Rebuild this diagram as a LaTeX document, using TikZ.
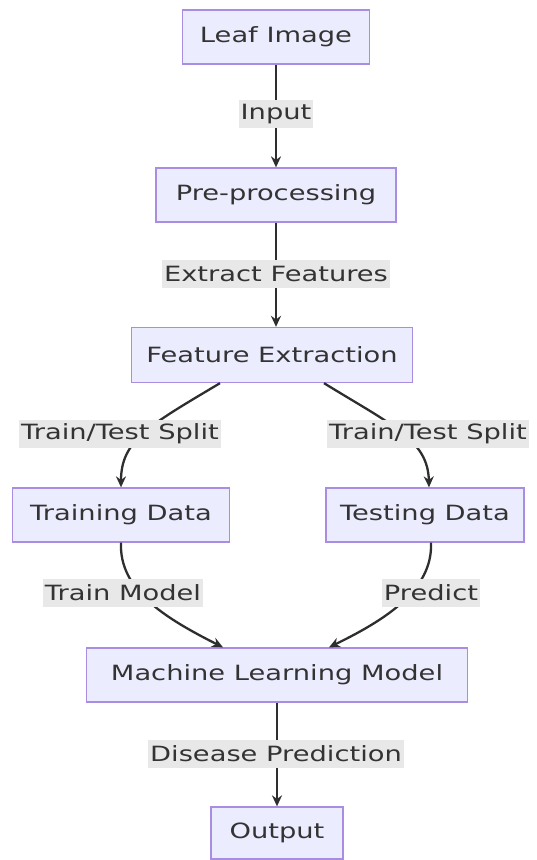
\documentclass[tikz,border=0pt]{standalone}
\usepackage{fontspec}
\setmainfont[FakeStretch=1.3]{DejaVu Sans}
\usetikzlibrary{arrows.meta}
\definecolor{boxfill}{HTML}{ECECFF}
\definecolor{boxline}{HTML}{9370DB}
\definecolor{txt}{HTML}{333333}
\definecolor{lblfill}{HTML}{E8E8E8}
\begin{document}
\begin{tikzpicture}[
  x=1pt, y=-1pt,
  box/.style={rectangle, draw=boxline!80, fill=boxfill, line width=1.3pt, text=txt,
    minimum height=54pt, inner sep=0pt, font=\fontsize{21}{25}\selectfont},
  lbl/.style={rectangle, fill=lblfill, text=txt, inner xsep=2pt, inner ysep=0pt,
    minimum height=28pt, font=\fontsize{21}{25}\selectfont},
  arrow/.style={-{Stealth[length=11pt,width=10pt]}, line width=2.3pt, draw=txt!90!black}
]
\useasboundingbox (0,0) rectangle (536,860);
\node[box, minimum width=187pt] (leaf) at (276,37) {Leaf Image};
\node[box, minimum width=240pt] (pre) at (276,195) {Pre-processing};
\node[box, minimum width=281pt, minimum height=55pt] (fe) at (272,355) {Feature Extraction};
\node[box, minimum width=217pt] (train) at (121,515) {Training Data};
\node[box, minimum width=198pt] (test) at (425,515) {Testing Data};
\node[box, minimum width=381pt] (ml) at (277,675) {Machine Learning Model};
\node[box, minimum width=132pt, minimum height=52pt] (out) at (277,833) {Output};

\draw[arrow] (leaf) -- (pre);
\draw[arrow] (pre.south) -- (pre.south |- fe.north);
\draw[arrow] ([xshift=-52pt]fe.south) .. controls (150,425) and (121,440) .. (train.north);
\draw[arrow] ([xshift=52pt]fe.south) .. controls (392,425) and (428,440) .. ([xshift=4pt]test.north);
\draw[arrow] (train.south) .. controls (119,590) and (165,618) .. ([xshift=-54pt]ml.north);
\draw[arrow] ([xshift=6pt]test.south) .. controls (433,590) and (385,620) .. ([xshift=52pt]ml.north);
\draw[arrow] (ml) -- (out);

\node[lbl] (l1) at (276,114) {Input};
\node[lbl] (l2) at (276,274) {Extract Features};
\node[lbl] (l3) at (120,434) {Train/Test Split};
\node[lbl] (l4) at (428,434) {Train/Test Split};
\node[lbl] (l5) at (123,593) {Train Model};
\node[lbl] (l6) at (431,593) {Predict};
\node[lbl] (l7) at (276,754) {Disease Prediction};
\end{tikzpicture}
\end{document}
